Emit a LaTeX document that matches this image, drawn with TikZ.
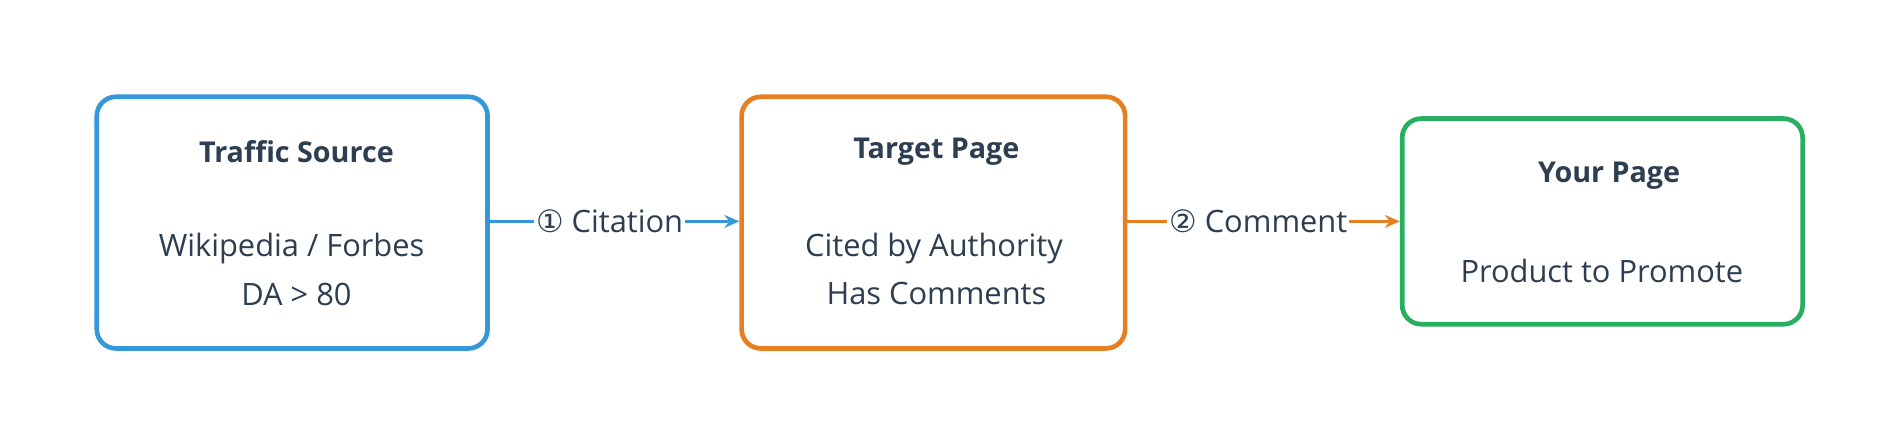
\documentclass[tikz,border=0pt]{standalone}
\usepackage{fontspec}
\setmainfont{Open Sans}
\newfontfamily\symf{DejaVu Sans}
\usetikzlibrary{arrows.meta}
\definecolor{cb}{HTML}{3498DB}
\definecolor{co}{HTML}{E67E22}
\definecolor{cg}{HTML}{27AE60}
\definecolor{ct}{HTML}{2C3E50}
\tikzset{
 box/.style={draw=#1, line width=2.2pt, rounded corners=9pt, fill=white},
 txt/.style={text=ct, font=\fontsize{14.5}{17}\selectfont},
 ttl/.style={text=ct, font=\fontsize{13.5}{16}\selectfont\bfseries},
 conn/.style={draw=#1, line width=1.6pt, -{Stealth[length=7pt,width=6pt]}},
 lab/.style={fill=white, text=ct, inner sep=1pt, font=\fontsize{14.5}{17}\selectfont}
}
\begin{document}
\begin{tikzpicture}[x=0.02cm,y=-0.02cm]
\useasboundingbox (0,0) rectangle (1568,367);
\node[box=cb, minimum width=323*0.02cm, minimum height=208*0.02cm] (a) at (241.5,184) {};
\node[box=co, minimum width=317*0.02cm, minimum height=208*0.02cm] (b) at (771.5,184) {};
\node[box=cg, minimum width=331*0.02cm, minimum height=170*0.02cm] (c) at (1324.5,183) {};
\node[ttl] (a1) at (245,125) {Traffic Source};
\node[txt] (a2) at (241,205) {Wikipedia / Forbes};
\node[txt] (a3) at (245,243) {DA > 80};
\node[ttl] (b1) at (774,125) {Target Page};
\node[txt] (b2) at (772,205) {Cited by Authority};
\node[txt] (b3) at (774,243) {Has Comments};
\node[ttl] (c1) at (1330,145) {Your Page};
\node[txt] (c2) at (1324,224) {Product to Promote};
\draw[conn=cb] (a.east |- 0,183) -- (b.west |- 0,183) node[lab, pos=0.48] (l1) {{\symf ①} Citation};
\draw[conn=co] (b.east |- 0,183) -- (c.west |- 0,183) node[lab, pos=0.48] (l2) {{\symf ②} Comment};
\end{tikzpicture}
\end{document}
